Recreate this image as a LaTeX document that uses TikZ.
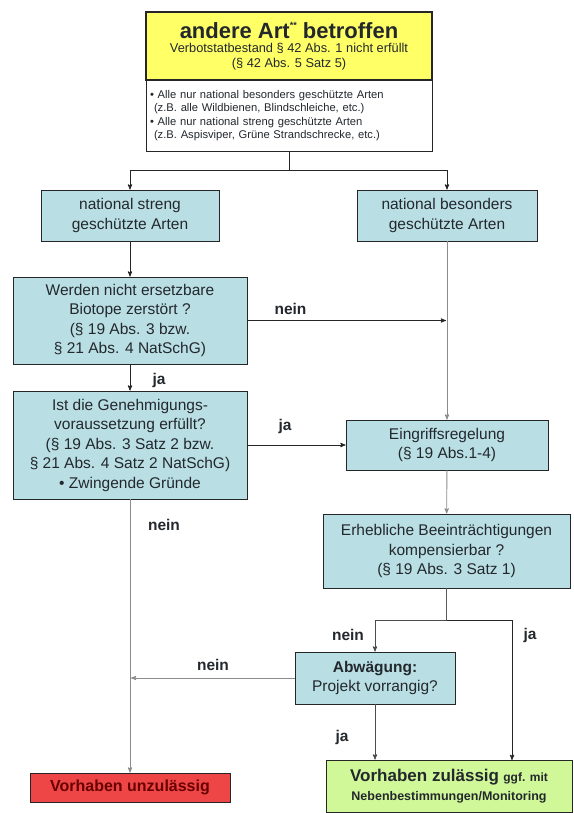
\documentclass[tikz,border=0pt]{standalone}
\usepackage{fontspec}
\setmainfont{Liberation Sans}
\usetikzlibrary{arrows}
\definecolor{my_yellow}{RGB}{255, 255, 102}
\definecolor{my_blue}{RGB}{185, 223, 228}
\definecolor{my_red}{RGB}{238, 70, 70}
\definecolor{my_green}{RGB}{208, 247, 152}
\definecolor{my_darkred}{RGB}{105, 0, 0}
\definecolor{my_text}{RGB}{35, 40, 45}
\tikzset {
  box/.style = {draw=black!85, line width=0.9pt, fill=my_blue, align=center, inner sep=2pt, text=my_text, font=\fontsize{15.5}{19.5}\selectfont},
  infobox/.style = {draw=black!85, line width=0.9pt, fill=white, align=left, inner xsep=4pt, text=my_text, font=\fontsize{11.2}{13.5}\selectfont},
  line/.style = {->, line width=0.9pt, color=black!85, >=stealth'},
  greyline/.style = {->, line width=0.9pt, color=black!45, >=stealth'},
  answer/.style = {text=my_text, font=\bfseries\fontsize{15.5}{17}\selectfont}
}

\begin{document}
\begin{tikzpicture}[x=1pt, y=-1pt]
    \useasboundingbox (0,0) rectangle (573,813);

    % top: yellow head + white list
    \node[box, fill=my_yellow, line width=1.2pt, minimum width=286pt, minimum height=68pt, font=\fontsize{12.8}{15}\selectfont] (art) at (289,46)
      {{\bfseries\fontsize{22}{24}\selectfont andere Art\raisebox{0.8ex}{\fontsize{9}{9}\selectfont **} betroffen}\\[-1pt]
       Verbotstatbestand § 42 Abs. 1 nicht erfüllt\\ (§ 42 Abs. 5 Satz 5)};
    \node[infobox, text width=278pt, minimum height=71pt] (info) at (289,115.5)
      {• Alle nur national besonders geschützte Arten\\
       \hspace*{4pt}(z.B. alle Wildbienen, Blindschleiche, etc.)\\
       • Alle nur national streng geschützte Arten\\
       \hspace*{4pt}(z.B. Aspisviper, Grüne Strandschrecke, etc.)};
    \coordinate (split1) at (289,170);

    % left column
    \node[box, minimum width=178pt, minimum height=51pt] (streng) at (130,215.5) {national streng\\ geschützte Arten};
    \node[box, minimum width=234pt, minimum height=87pt] (werden) at (130,320.5)
      {Werden nicht ersetzbare\\ Biotope zerstört ?\\ (§ 19 Abs. 3 bzw.\\ § 21 Abs. 4 NatSchG)};
    \node[box, minimum width=234pt, minimum height=108pt] (ist) at (130,445)
      {Ist die Genehmigungs-\\ voraussetzung erfüllt?\\ (§ 19 Abs. 3 Satz 2 bzw.\\ § 21 Abs. 4 Satz 2 NatSchG)\\ • Zwingende Gründe};
    \node[box, fill=my_red, minimum width=200pt, minimum height=29pt, text=my_darkred, font=\bfseries\fontsize{16}{19}\selectfont] (unzul) at (130,787.5) {Vorhaben unzulässig};

    % right column
    \node[box, minimum width=180pt, minimum height=51pt] (besonders) at (447,215.5) {national besonders\\ geschützte Arten};
    \node[box, minimum width=202pt, minimum height=50pt] (eingriff) at (447,445) {Eingriffsregelung\\ (§ 19 Abs.1-4)};
    \node[box, minimum width=247pt, minimum height=74pt] (erheb) at (446.5,551)
      {Erhebliche Beeinträchtigungen\\ kompensierbar ?\\ (§ 19 Abs. 3 Satz 1)};
    \coordinate (split2) at (446.5,620);
    \node[box, minimum width=160pt, minimum height=52pt] (abw) at (375,678) {\textbf{Abwägung:}\\ Projekt vorrangig?};
    \node[box, fill=my_green, minimum width=246pt, minimum height=52pt] (zul) at (449,786)
      {\bfseries{\fontsize{17}{19}\selectfont Vorhaben zulässig} {\fontsize{12}{14}\selectfont ggf. mit}\\[-1pt]
       {\bfseries\fontsize{12.5}{15}\selectfont Nebenbestimmungen/Monitoring}};
    \coordinate (zulR) at (512,760);

    \draw[line width=0.9pt, black!85] (info.south) -- (split1);
    \draw[line] (split1) -| (streng.north);
    \draw[line] (split1) -| (besonders.north);
    \draw[line] (streng) -- (werden);
    \draw[line] (werden) -- (ist);
    \draw[line, shorten >=1pt] (werden.east) -- (werden.east -| besonders.south);
    \draw[greyline] (besonders) -- (eingriff);
    \draw[line] (ist) -- (eingriff);
    \draw[greyline] (eingriff) -- (erheb);
    \draw[line width=0.9pt, black!65] (erheb) -- (split2);
    \draw[line, black!70] (split2) -| (abw.north);
    \draw[line] (split2) -| (zulR);
    \draw[line, black!70] (abw) -- (abw.south |- zul.north);
    \draw[greyline, shorten >=1pt] (abw.west) -- (abw.west -| ist.south);
    \draw[greyline] (ist) -- (unzul);

    \node[answer] (n1) at (290.5,309) {nein};
    \node[answer] (j1) at (159,380) {ja};
    \node[answer] (j2) at (285,426) {ja};
    \node[answer] (n2) at (164,525) {nein};
    \node[answer] (n3) at (213,665) {nein};
    \node[answer] (n4) at (348,635) {nein};
    \node[answer] (j3) at (530,635) {ja};
    \node[answer] (j4) at (342,737) {ja};
\end{tikzpicture}
\end{document}
